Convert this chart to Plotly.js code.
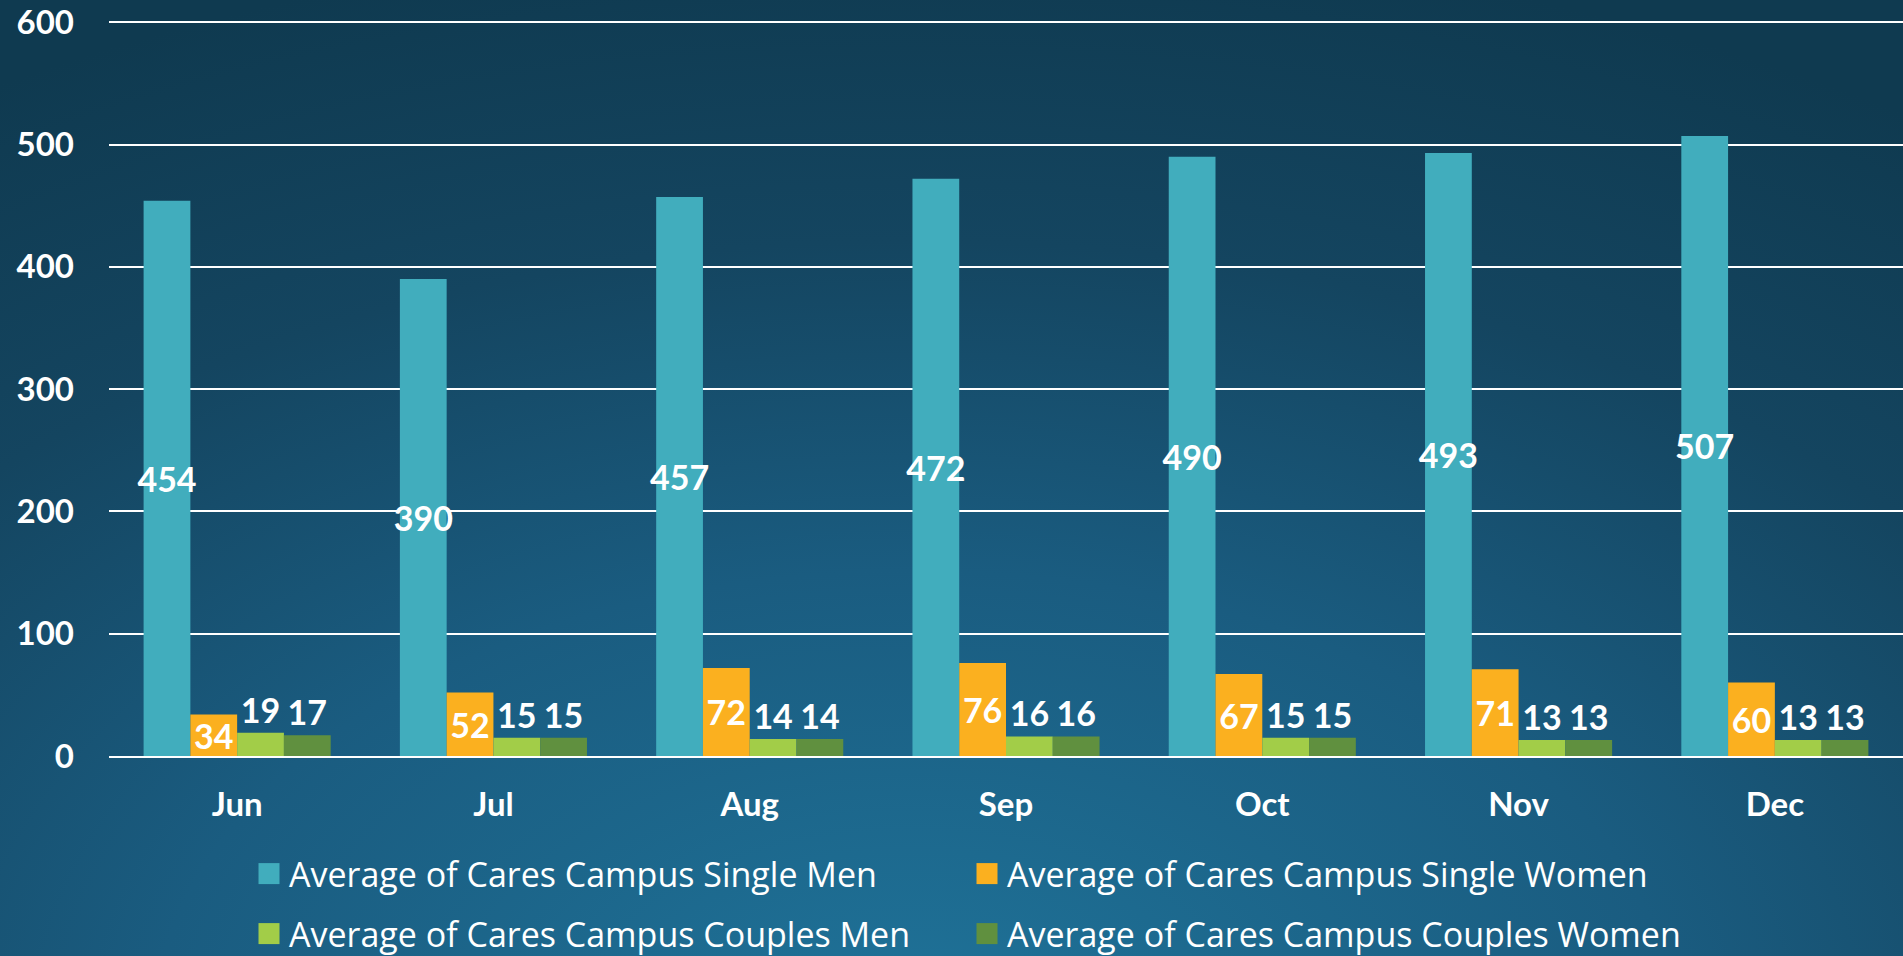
<!DOCTYPE html>
<html>
<head>
<meta charset="utf-8">
<script src="https://cdn.plot.ly/plotly-3.0.1.min.js"></script>
<style>
  html, body { margin: 0; padding: 0; }
  #chart {
    width: 1903px; height: 956px;
    background: radial-gradient(ellipse 95% 115% at 48% 108%, #1f7399 0%, #1a5c80 42%, #144560 72%, #0f3a50 100%);
  }
  g.legendpoints { transform: translate(-15px, 0px) scale(1.75); }
</style>
</head>
<body>
<div id="chart"></div>
<script>
const months = ["Jun", "Jul", "Aug", "Sep", "Oct", "Nov", "Dec"];
const singleMen = [454, 390, 457, 472, 490, 493, 507];
const singleWomen = [34, 52, 72, 76, 67, 71, 60];
const couplesMen = [19, 15, 14, 16, 15, 13, 13];
const couplesWomen = [17, 15, 14, 16, 15, 13, 13];
const seriesNames = [
  "Average of Cares Campus Single Men",
  "Average of Cares Campus Single Women",
  "Average of Cares Campus Couples Men",
  "Average of Cares Campus Couples Women"
];
const yTicks = [0, 100, 200, 300, 400, 500, 600];

const FONT = "Lato, 'Open Sans', sans-serif";
const LEGFONT = "'Open Sans', Lato, sans-serif";
const colors = ["#41adbd", "#fbb01f", "#a2cd48", "#60903f"];
const seriesValues = [singleMen, singleWomen, couplesMen, couplesWomen];
const legendIds = ["legend", "legend2", "legend3", "legend4"];

const traces = seriesValues.map((vals, i) => ({
  type: "bar",
  name: seriesNames[i],
  x: months,
  y: vals,
  text: vals.map(String),
  textposition: i < 2 ? "inside" : "outside",
  insidetextanchor: "middle",
  textangle: 0,
  constraintext: "none",
  cliponaxis: false,
  textfont: { family: FONT, size: 34, color: "#ffffff", weight: 700 },
  marker: { color: colors[i], line: { width: 0 } },
  legend: legendIds[i],
  hoverinfo: "skip"
}));

const legendFont = { family: LEGFONT, size: 34, color: "#ffffff" };
function leg(x, y) {
  return {
    xref: "container", yref: "container",
    x: x, y: y, xanchor: "left", yanchor: "middle",
    orientation: "h", bgcolor: "rgba(0,0,0,0)", borderwidth: 0,
    font: legendFont
  };
}

const layout = {
  width: 1903, height: 956,
  paper_bgcolor: "rgba(0,0,0,0)",
  plot_bgcolor: "rgba(0,0,0,0)",
  margin: { l: 109, r: 0, t: 21, b: 199.5 },
  barmode: "group",
  bargap: 0.27,
  bargroupgap: 0,
  font: { family: FONT, color: "#ffffff" },
  showlegend: true,
  xaxis: {
    type: "category",
    showgrid: false,
    showline: true,
    linecolor: "#ffffff",
    linewidth: 2,
    ticks: "",
    ticklabelstandoff: 18,
    tickfont: { family: FONT, size: 33, color: "#ffffff", weight: 700 }
  },
  yaxis: {
    range: [0, 601],
    tickvals: yTicks,
    ticktext: yTicks.map(String),
    showgrid: true,
    gridcolor: "#ffffff",
    gridwidth: 2,
    zeroline: false,
    showline: false,
    ticks: "",
    ticklabelstandoff: 34,
    tickfont: { family: FONT, size: 33, color: "#ffffff", weight: 700 }
  },
  legend: leg(249 / 1903, 1 - 874 / 956),
  legend2: leg(967 / 1903, 1 - 874 / 956),
  legend3: leg(249 / 1903, 1 - 934 / 956),
  legend4: leg(967 / 1903, 1 - 934 / 956)
};

Plotly.newPlot("chart", traces, layout, { displayModeBar: false, staticPlot: true });
</script>
</body>
</html>
